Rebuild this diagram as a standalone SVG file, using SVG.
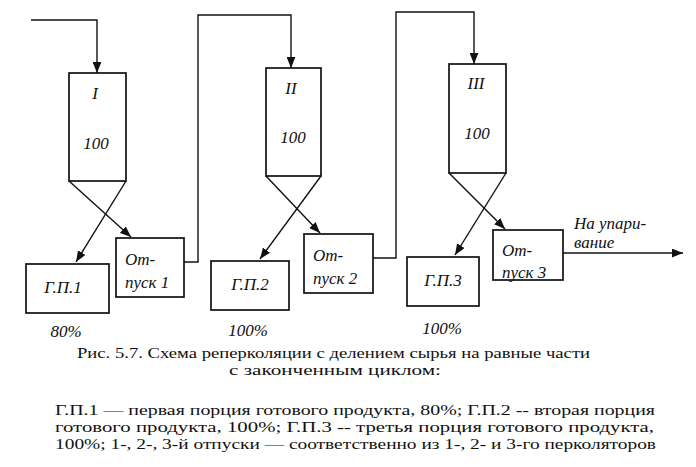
<svg xmlns="http://www.w3.org/2000/svg" width="696" height="467" viewBox="0 0 696 467">
<style>
.box{fill:#fff;stroke:#111;stroke-width:1.7}
.ln{fill:none;stroke:#111;stroke-width:1.4}
.lb{font-family:"Liberation Serif","DejaVu Serif",serif;font-style:italic;font-size:17px;fill:#111}
.mid{text-anchor:middle}
.cap{font-family:"Liberation Serif","DejaVu Serif",serif;font-size:14.5px;fill:#111}
</style>
<defs>
<marker id="ah" viewBox="0 0 10 8" refX="10" refY="4" markerWidth="11" markerHeight="9" markerUnits="userSpaceOnUse" orient="auto">
<path d="M0,0 L10,4 L0,8 Z" fill="#111"/>
</marker>
</defs>
<rect width="696" height="467" fill="#fff"/>
<g id="connectors">
<path class="ln" d="M31,20 H97 V73" marker-end="url(#ah)"/>
<path class="ln" d="M184,262 H198 V15 H291 V68" marker-end="url(#ah)"/>
<path class="ln" d="M373,258 H396 V12 H474 V64" marker-end="url(#ah)"/>
<path class="ln" d="M563,253 H683" marker-end="url(#ah)"/>
<path class="ln" d="M69,181 L131,237" marker-end="url(#ah)"/>
<path class="ln" d="M126,181 L76,262" marker-end="url(#ah)"/>
<path class="ln" d="M266,176 L320,233" marker-end="url(#ah)"/>
<path class="ln" d="M321,176 L260,259" marker-end="url(#ah)"/>
<path class="ln" d="M449,173 L505,229" marker-end="url(#ah)"/>
<path class="ln" d="M506,173 L455,255" marker-end="url(#ah)"/>
</g>
<g id="col1"><rect class="box" x="69" y="73" width="57" height="108"/><text class="lb mid" x="95" y="99">I</text><text class="lb mid" x="96" y="149">100</text></g>
<g id="col2"><rect class="box" x="266" y="68" width="55" height="108"/><text class="lb mid" x="291" y="94">II</text><text class="lb mid" x="293" y="143">100</text></g>
<g id="col3"><rect class="box" x="449" y="64" width="57" height="109"/><text class="lb mid" x="476" y="89">III</text><text class="lb mid" x="477" y="139">100</text></g>
<g id="gp1"><rect class="box" x="26" y="264" width="83" height="49"/><text class="lb mid" x="63" y="293">Г.П.1</text></g>
<g id="otp1"><rect class="box" x="116" y="238" width="68" height="59"/><text class="lb" x="125" y="265">От-</text><text class="lb" x="125" y="288">пуск 1</text></g>
<g id="gp2"><rect class="box" x="211" y="261" width="78" height="49"/><text class="lb mid" x="250" y="290">Г.П.2</text></g>
<g id="otp2"><rect class="box" x="304" y="234" width="69" height="59"/><text class="lb" x="313" y="261">От-</text><text class="lb" x="313" y="284">пуск 2</text></g>
<g id="gp3"><rect class="box" x="407" y="257" width="72" height="49"/><text class="lb mid" x="443" y="286">Г.П.3</text></g>
<g id="otp3"><rect class="box" x="493" y="230" width="70" height="50"/><text class="lb" x="502" y="256">От-</text><text class="lb" x="502" y="278">пуск 3</text></g>
<g id="out"><text class="lb" x="574" y="229">На упари-</text><text class="lb" x="574" y="248">вание</text></g>
<g id="pct"><text class="lb mid" x="66" y="337">80%</text><text class="lb mid" x="248" y="336">100%</text><text class="lb mid" x="442" y="334">100%</text></g>
<g id="caption">
<text class="cap" x="77" y="358" textLength="513" lengthAdjust="spacingAndGlyphs">Рис. 5.7. Схема реперколяции с делением сырья на равные части</text>
<text class="cap" x="229" y="375" textLength="212" lengthAdjust="spacingAndGlyphs">с законченным циклом:</text>
<text class="cap" x="55" y="415" textLength="600" lengthAdjust="spacingAndGlyphs">Г.П.1 — первая порция готового продукта, 80%; Г.П.2 -- вторая порция</text>
<text class="cap" x="55" y="432" textLength="599" lengthAdjust="spacingAndGlyphs">готового продукта, 100%; Г.П.3 -- третья порция готового продукта,</text>
<text class="cap" x="55" y="449" textLength="601" lengthAdjust="spacingAndGlyphs">100%; 1-, 2-, 3-й отпуски — соответственно из 1-, 2- и 3-го перколяторов</text>
</g>
</svg>
